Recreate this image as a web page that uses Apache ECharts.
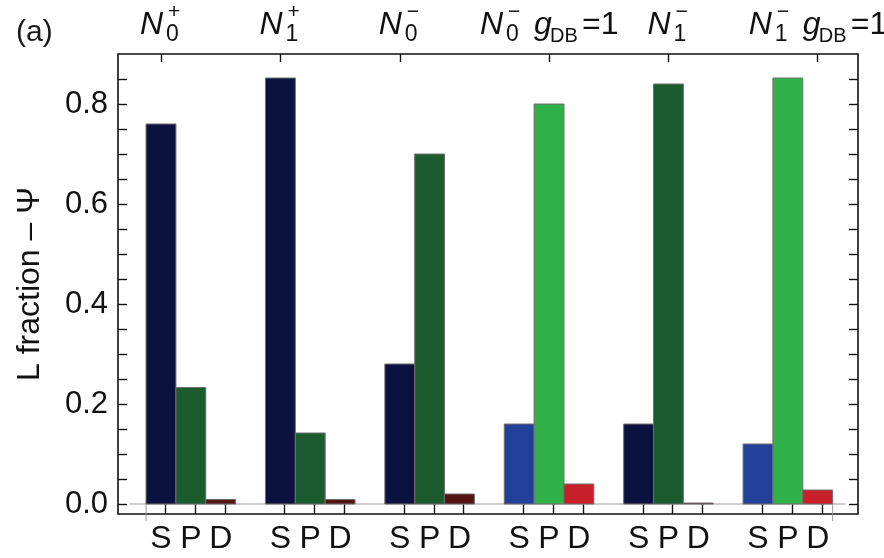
<!DOCTYPE html>
<html>
<head>
<meta charset="utf-8">
<script src="https://cdn.jsdelivr.net/npm/echarts@6/dist/echarts.min.js"></script>
<style>
  html, body { margin: 0; padding: 0; background: #fff; }
  #chart { width: 884px; height: 558px; }
</style>
</head>
<body>
<div id="chart"></div>
<script>
// ---------- data ----------
const groupNames = ['N0+', 'N1+', 'N0-', 'N0- gDB=1', 'N1-', 'N1- gDB=1'];
const labelSub   = ['0', '1', '0', '0', '1', '1'];
const labelSup   = ['+', '+', '\u2212', '\u2212', '\u2212', '\u2212'];
const gdbFlag    = [false, false, false, true, false, true];
const orbitals   = ['S', 'P', 'D'];
const valS = [0.76, 0.852, 0.28, 0.16, 0.16, 0.12];
const valP = [0.233, 0.142, 0.70, 0.80, 0.84, 0.852];
const valD = [0.009, 0.009, 0.02, 0.04, 0.002, 0.028];
const yTickLabels = [0.0, 0.2, 0.4, 0.6, 0.8];
const topLabelSlot = [0, 4, 8, 13, 17, 22];   // slot under the centre of each top label

// ---------- styling / layout ----------
const FONT = '"Liberation Sans", Arial, Helvetica, sans-serif';
const SLOTS_PER_GROUP = 4;
const palette = ['#0c1240', '#1b5c2f', '#551414', '#22409a', '#31b14a', '#c8202a'];
const X_MIN = -0.94, X_MAX = 23.85;
const Y_MIN = -0.02, Y_MAX = 0.9;

const bars = [];
groupNames.forEach((_, g) => {
  [valS, valP, valD].forEach((arr, k) => {
    bars.push([g * SLOTS_PER_GROUP + k, arr[g], (gdbFlag[g] ? 3 : 0) + k]);
  });
});
const barCenters = bars.map(b => b[0] + 0.5);
const barTickPos = bars.map(b => b[0] + 0.64);
const topPos = topLabelSlot.map(s => s + 0.5);
const yMinor = [];
for (let i = 0; i <= 17; i++) yMinor.push(+(i * 0.05).toFixed(2));
const lastSlot = bars[bars.length - 1][0] + 1;

const chart = echarts.init(document.getElementById('chart'), null, { renderer: 'canvas' });

const tickStyle = { color: '#111', width: 1.4 };
const option = {
  animation: false,
  backgroundColor: '#fff',
  title: {
    text: '(a)', left: 11, top: 13,
    textStyle: { fontFamily: FONT, fontSize: 30, fontWeight: 'normal', color: '#1a1a1a' }
  },
  grid: {
    left: 118, right: 26, top: 54, bottom: 44,
    show: true, borderColor: '#111', borderWidth: 1.6, backgroundColor: 'transparent'
  },
  xAxis: [
    {
      type: 'value', position: 'bottom', min: X_MIN, max: X_MAX,
      axisLine: { show: false, onZero: false },
      splitLine: { show: false },
      axisTick: { show: true, inside: true, length: 10, customValues: barTickPos, lineStyle: tickStyle },
      axisLabel: { show: true, customValues: barCenters, margin: 9,
                   fontFamily: FONT, fontSize: 32, color: '#111',
                   formatter: v => orbitals[Math.floor(v) % SLOTS_PER_GROUP] }
    },
    {
      type: 'value', position: 'top', min: X_MIN, max: X_MAX,
      axisLine: { show: false, onZero: false },
      splitLine: { show: false },
      axisTick: { show: true, inside: true, length: 8, customValues: topPos, lineStyle: tickStyle },
      axisLabel: { show: false, customValues: topPos }
    }
  ],
  yAxis: [
    {
      type: 'value', position: 'left', min: Y_MIN, max: Y_MAX,
      axisLine: { show: false, onZero: false },
      splitLine: { show: false },
      axisTick: { show: true, inside: true, length: 9, customValues: yMinor, lineStyle: tickStyle },
      axisLabel: { customValues: yTickLabels, margin: 10, fontFamily: FONT, fontSize: 31,
                   color: '#111', formatter: v => v.toFixed(1) },
      name: 'L fraction \u2013 \u03A8', nameLocation: 'middle', nameGap: 72, nameRotate: 90,
      nameTextStyle: { fontFamily: FONT, fontSize: 32, color: '#111' }
    },
    {
      type: 'value', position: 'right', min: Y_MIN, max: Y_MAX,
      axisLine: { show: false, onZero: false },
      splitLine: { show: false },
      axisTick: { show: true, inside: true, length: 9, customValues: yMinor, lineStyle: tickStyle },
      axisLabel: { show: false, customValues: yTickLabels }
    }
  ],
  series: [
    {
      type: 'line', xAxisIndex: 0, yAxisIndex: 0, z: 1, silent: true,
      showSymbol: false, symbol: 'none', clip: false,
      lineStyle: { color: '#9a9a9a', width: 1 },
      data: [[-0.54, 0], [lastSlot + 0.42, 0]]
    },
    {
      type: 'line', xAxisIndex: 0, yAxisIndex: 0, z: 1, silent: true,
      showSymbol: false, symbol: 'none', clip: false,
      lineStyle: { color: '#9a9a9a', width: 1 },
      data: [[0, 0.005], [0, -0.034]]
    },
    {
      type: 'line', xAxisIndex: 0, yAxisIndex: 0, z: 1, silent: true,
      showSymbol: false, symbol: 'none', clip: false,
      lineStyle: { color: '#9a9a9a', width: 1 },
      data: [[lastSlot, 0.005], [lastSlot, -0.034]]
    },
    {
      type: 'custom', xAxisIndex: 0, yAxisIndex: 0, z: 2,
      encode: { x: 0, y: 1 },
      data: bars,
      renderItem: (params, api) => {
        const x = api.value(0), y = api.value(1);
        const p0 = api.coord([x, 0]);
        const p1 = api.coord([x + 1, y]);
        return {
          type: 'rect',
          shape: { x: p0[0], y: p1[1], width: p1[0] - p0[0], height: p0[1] - p1[1] },
          style: { fill: palette[api.value(2)], stroke: '#6e6e6e', lineWidth: 1 }
        };
      }
    }
  ]
};
chart.setOption(option);

// ---------- top labels (N with stacked sub/superscript) ----------
function txt(x, y, text, size, italic, align) {
  return {
    type: 'text', x: x, y: y, silent: true, z: 10,
    style: {
      text: text, fill: '#111', fontFamily: FONT, fontSize: size,
      fontStyle: italic ? 'italic' : 'normal',
      align: align || 'left', verticalAlign: 'middle'
    }
  };
}
const graphics = [];
topPos.forEach((p, i) => {
  const cx = chart.convertToPixel({ xAxisIndex: 1 }, p);
  const total = gdbFlag[i] ? 136 : 40;
  const x0 = cx - total / 2;
  graphics.push(txt(x0 - 1, 25, 'N', 32, true));
  graphics.push(txt(x0 + 25, 35, labelSub[i], 23, false));
  graphics.push(txt(x0 + 27, 12, labelSup[i], 21, false));
  if (gdbFlag[i]) {
    graphics.push(txt(x0 + 53, 25, 'g', 32, true));
    graphics.push(txt(x0 + 69, 36, 'DB', 20, false));
    graphics.push(txt(x0 + 101, 25, '=1', 32, false));
  }
});
chart.setOption({ graphic: graphics });
</script>
</body>
</html>
